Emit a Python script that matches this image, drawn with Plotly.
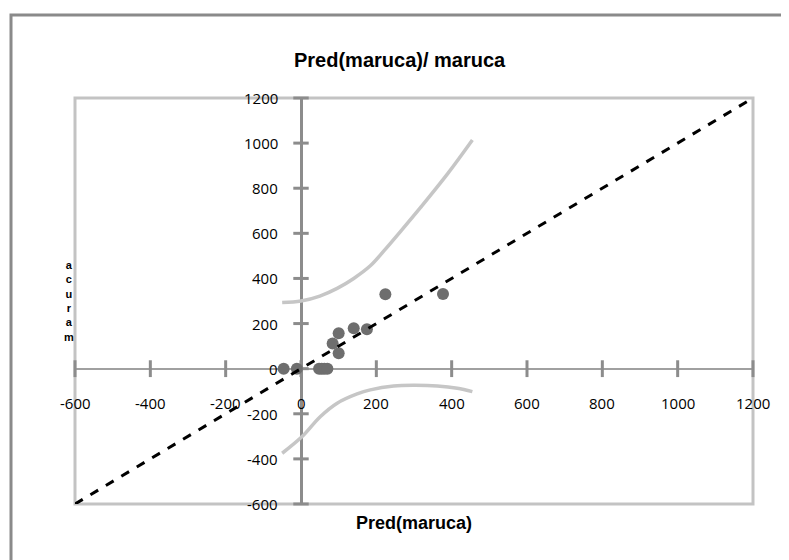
import plotly.graph_objects as go

# ---- data ----
obs_x = [-46, -11, 48, 55, 62, 70, 100, 84, 100, 140, 175, 224, 377]
obs_y = [0, 0, 0, 0, 0, 0, 157, 112, 68, 179, 175, 330, 331]

fit_x = [-600, 1200]
fit_y = [-600, 1200]

upper_x = [-50, 0, 50, 96, 140, 184, 220, 264, 317, 390, 455]
upper_y = [293, 300, 322, 356, 400, 456, 522, 608, 714, 866, 1014]

lower_x = [-50, 3, 51, 96, 149, 184, 246, 300, 362, 415, 455]
lower_y = [-375, -301, -213, -153, -112, -94, -77, -74, -77, -87, -102]

x_ticks = [-600, -400, -200, 0, 200, 400, 600, 800, 1000, 1200]
y_ticks = [-600, -400, -200, 0, 200, 400, 600, 800, 1000, 1200]

title_text = "Pred(maruca)/ maruca"
x_title = "Pred(maruca)"
y_title = "maruca"

FONT = "Liberation Sans"
TICKFONT = "Open Sans"
AX = "#8c8c8c"

# page body has an 8px margin: plot area spans x 75..753, y 98..504 in the window
OFF = 8
ML, MR, MT, MB = 75 - OFF, 36, 98 - OFF, 56
W, H = 789 - OFF, 560 - OFF
PW, PH = 678, 406


def px_x(px):
    return (px - 75) / PW


def px_y(py):
    return (504 - py) / PH


fig = go.Figure()

# confidence curves
for cx, cy in ((upper_x, upper_y), (lower_x, lower_y)):
    fig.add_trace(go.Scatter(x=cx, y=cy, mode="lines",
                             line=dict(color="#c6c6c6", width=3.5, shape="spline",
                                       smoothing=1.0),
                             hoverinfo="skip", showlegend=False))

# tick marks crossing the axes
fig.add_trace(go.Scatter(x=x_ticks, y=[0] * len(x_ticks), mode="markers",
                         marker=dict(symbol="line-ns", size=12,
                                     line=dict(color=AX, width=3)),
                         hoverinfo="skip", showlegend=False, cliponaxis=False))
fig.add_trace(go.Scatter(x=[0] * len(y_ticks), y=y_ticks, mode="markers",
                         marker=dict(symbol="line-ew", size=11,
                                     line=dict(color=AX, width=3)),
                         hoverinfo="skip", showlegend=False, cliponaxis=False))

# observations
fig.add_trace(go.Scatter(x=obs_x, y=obs_y, mode="markers",
                         marker=dict(symbol="circle", size=12, color="#6e6e6e"),
                         showlegend=False))

# fitted line
fig.add_trace(go.Scatter(x=fit_x, y=fit_y, mode="lines",
                         line=dict(color="black", width=3, dash="dash"),
                         showlegend=False, cliponaxis=False))

annotations = []
for v in x_ticks:
    annotations.append(dict(x=v, y=0, xref="x", yref="y", text=str(v),
                            showarrow=False, yshift=-34, xanchor="center",
                            yanchor="middle",
                            font=dict(family=TICKFONT, size=15, color="black")))
for v in y_ticks:
    annotations.append(dict(x=0, y=v, xref="x", yref="y", text=str(v),
                            showarrow=False, xshift=-21, xanchor="right",
                            yanchor="middle",
                            font=dict(family=TICKFONT, size=15, color="black")))

# title
annotations.append(dict(x=px_x(400), y=px_y(60), xref="paper", yref="paper",
                        text="<b>" + title_text + "</b>",
                        showarrow=False, xanchor="center", yanchor="middle",
                        font=dict(family=FONT, size=20, color="black")))
# x title
annotations.append(dict(x=0.5, y=px_y(523), xref="paper", yref="paper",
                        text="<b>" + x_title + "</b>", showarrow=False,
                        xanchor="center", yanchor="middle",
                        font=dict(family=FONT, size=18, color="black")))
# y title: letters stacked, read bottom to top
annotations.append(dict(x=px_x(69), y=px_y(301), xref="paper", yref="paper",
                        text="<br>".join("<b>" + c + "</b>" for c in reversed(y_title)),
                        showarrow=False, xanchor="center", yanchor="middle",
                        align="center",
                        font=dict(family=FONT, size=11, color="black")))

shapes = [
    # outer chart border (cut by the window)
    dict(type="rect", xref="paper", yref="paper",
         x0=px_x(11), x1=px_x(800), y0=px_y(575), y1=px_y(15),
         line=dict(color="#8a8a8a", width=3), layer="below"),
    # plot area border
    dict(type="rect", xref="paper", yref="paper", x0=0, x1=1, y0=0, y1=1,
         line=dict(color="#c3c3c3", width=3), layer="below"),
]

fig.update_layout(
    width=W, height=H,
    margin=dict(l=ML, r=MR, t=MT, b=MB),
    paper_bgcolor="white", plot_bgcolor="white",
    showlegend=False,
    annotations=annotations,
    shapes=shapes,
    xaxis=dict(range=[-600, 1200], showgrid=False, showticklabels=False,
               ticks="", showline=False, zeroline=True,
               zerolinecolor=AX, zerolinewidth=3, fixedrange=True),
    yaxis=dict(range=[-600, 1200], showgrid=False, showticklabels=False,
               ticks="", showline=False, zeroline=True,
               zerolinecolor="#a0a0a0", zerolinewidth=2, fixedrange=True),
)

fig.write_html("out.html")
